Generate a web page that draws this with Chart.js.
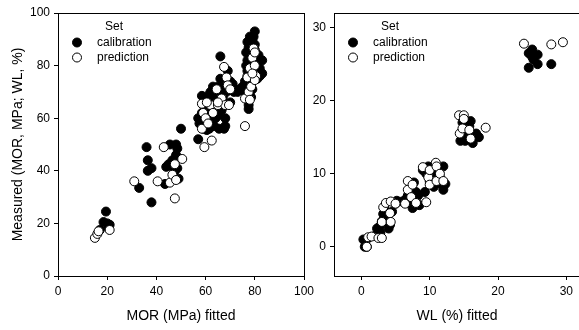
<!DOCTYPE html>
<html>
<head>
<meta charset="utf-8">
<script src="https://cdn.jsdelivr.net/npm/chart.js@4/dist/chart.umd.min.js"></script>
<style>
  html, body { margin: 0; padding: 0; background: #fff; overflow: hidden; }
  #wrap { position: relative; width: 579px; height: 330px; overflow: hidden; }
  canvas { position: absolute; left: 0; top: 0; }
</style>
</head>
<body>
<div id="wrap">
  <canvas id="left" width="579" height="330"></canvas>
  <canvas id="right" width="600" height="330"></canvas>
</div>
<script>
// MOR panel (x = fitted, y = measured)
const morCalibration = [
  [19.5,24.5],[18.5,20.5],[20,20],[21,19.5],[17,17.5],[20.5,18.5],
  [33,33.5],[36,49],[36.5,44],[36.5,40],[38,41],[38,28],[43.5,35],[44,41.5],[45,42.5],[45.5,50],
  [46,42],[47,41],[48,50],[48.5,48.5],[48,46],[48.5,41],[49,37],[50,56],[47.5,40],[46.5,44],
  [57,52],[57.5,58],[58,60],[58.5,68.5],[59,56],[59.5,59],[60,57],[60.5,55.5],[61,63.5],[61,67],
  [61.5,69],[62,70],[62,58],[63,72],[63.5,57],[64,60],[65,61],[65.5,56],[66,83.5],[66,75],[66,70],
  [67,72],[67.5,56],[68,57],[68.5,70],[69,78],[69.5,73],[70,66],[71,73],[72,71],[73,70],[74,71],
  [75,72],[76,74],[76.5,80],[77,89],[77.5,65],[77.5,63.5],[78,91],[78,87],[78.5,84],[79,90],
  [79.5,82],[80,93],[80,88],[80.5,78],[81,75],[82,76],[83,82],[83,77],[78,70],[77,76],[79,71],
  [80,86],[76.5,85],[78,81],[79,79],[58.5,62],[60,64],[63,65],[64,66],[67,68],[69.5,71],[70,74],
  [66.5,63],[59,58.5],[62.5,61],[57,60],[77,82],[79,75],[81,80],
  [77.5,87],[78.5,89],[79.5,91],[77,78],[78,74],[78.5,68],[82,79],[81.5,84],[76,70],[77,72],
  [64,68],[65,72],[60,61],[61.5,56],[68,60],[71.5,70]
];
const morPrediction = [
  [15,14.5],[16,16],[16.5,17],[21,17.5],
  [31,36],[40.5,36],[43,49],[45.5,35.5],[46.5,38.5],[47.5,29.5],[47.5,42.5],[48,36.5],[50.5,44.5],
  [58.5,56],[58.5,65.5],[59,62],[59.5,49],[60,60],[62,65],[62.5,51.5],[63,62],[64.5,71],[65,65],
  [66.5,67.5],[67.5,79.5],[68,65],[68.5,75.5],[69,72.5],[69.5,65],[70,71],[76,57],[76,67.5],
  [77,75.5],[77.5,70],[78,67],[78,79],[78.5,72],[79,83],[79.5,86.5],[80,85],[80,80],[80.5,76],
  [80,74.5],[79,77],[60.5,66],[65,66],[61,58]
];

// WL panel
const wlCalibration = [
  [0.3,1],[0.5,0],[0.8,0],[1,1.2],[2,1.5],[2.3,2.5],[2.7,2.8],[3,3.5],[3.2,4.5],[3.5,5.0],[4,2.5],
  [4.2,3],[4.5,4.8],[5.2,6.3],[5,5.9],[6.5,6.5],[7,7.5],[7.2,6.2],[7.5,5.3],[7.7,8.8],[8,7.5],
  [8.2,5.8],[8.5,5.7],[9,10.5],[9.3,7.5],[9.5,10],[10,10.5],[10,9],[10.3,8.5],[10.6,8.2],[10.8,11],
  [11,10],[11.5,9.5],[12,11],[12,7.8],[12.3,8.6],[14.5,14.5],[14.8,17],[15.2,14.5],[15.5,15.5],
  [15.8,16.5],[16,17.2],[16.2,15],[16.3,14.2],[16.8,15.5],[17.2,15],[24.5,26.5],[24.5,24.5],
  [25,27],[25,26],[25.2,25.6],[25.8,26.3],[25.8,25],[27.8,25],
  [6,6.2],[6.8,7],[7.4,8],[8.3,7],[3.8,4],[2.8,2],[9.8,11],[11.3,8.7],[15,16],[14.8,15]
];
const wlPrediction = [
  [0.8,0],[1,1.3],[1.5,1.4],[2.5,1.2],[3,1.2],[3,3.4],[3.2,5.4],[3.6,6],[4.2,4.6],[4.3,6.2],
  [4.3,3.4],[5,5.9],[6.4,5.9],[6.8,9],[6.8,7.8],[7.3,6.8],[7.5,8.5],[8,6],[9.5,6.1],[9,10.9],
  [9.8,9.5],[10,8.5],[10,10.5],[10.9,11.5],[11,11],[11,9],[11.5,10],[12,9],[14.3,18],[14.4,15.5],
  [14.8,16.2],[15,18],[15,17.5],[15.8,16],[16,14.8],[18.2,16.3],[23.8,27.8],[27.8,27.7],[29.5,28]
];

const setNames = ['calibration', 'prediction'];
const font = "'Liberation Sans', Arial, sans-serif";

function toPoints(arr) {
  return arr.map(p => ({ x: p[0], y: p[1] }));
}

// box round the plot area plus the "Set" legend
const framePlugin = {
  id: 'frame',
  afterDraw(chart) {
    const { ctx, chartArea } = chart;
    ctx.save();
    ctx.strokeStyle = '#000';
    ctx.lineWidth = 1;
    ctx.strokeRect(Math.round(chartArea.left) + 0.5, Math.round(chartArea.top) + 0.5,
      Math.round(chartArea.right - chartArea.left), Math.round(chartArea.bottom - chartArea.top));

    const lx = chartArea.left, ly = chartArea.top;
    ctx.fillStyle = '#000';
    ctx.font = '12px ' + font;
    ctx.textBaseline = 'middle';
    ctx.textAlign = 'center';
    ctx.fillText('Set', lx + 56, ly + 14);
    ctx.textAlign = 'left';
    setNames.forEach((name, i) => {
      const cy = ly + 29.5 + i * 15;
      ctx.beginPath();
      ctx.arc(lx + 19, cy, 4.5, 0, Math.PI * 2);
      ctx.fillStyle = i === 0 ? '#000' : '#fff';
      ctx.fill();
      ctx.stroke();
      ctx.fillStyle = '#000';
      ctx.fillText(name, lx + 39, cy);
    });
    ctx.restore();
  }
};

function makeChart(id, cal, pred, opts) {
  new Chart(document.getElementById(id), {
    type: 'scatter',
    data: {
      datasets: [
        { label: setNames[0], data: toPoints(cal), order: 1,
          backgroundColor: '#000', borderColor: '#000', borderWidth: 1, pointRadius: 4.5 },
        { label: setNames[1], data: toPoints(pred), order: 0,
          backgroundColor: '#fff', borderColor: '#000', borderWidth: 1, pointRadius: 4.5 }
      ]
    },
    options: {
      responsive: false,
      animation: false,
      layout: { padding: opts.padding },
      plugins: { legend: { display: false }, tooltip: { enabled: false } },
      scales: {
        x: {
          type: 'linear', min: opts.xMin, max: opts.xMax,
          ticks: { stepSize: opts.step, includeBounds: false, color: '#000', font: { size: 12, family: font }, padding: 4, maxRotation: 0 },
          grid: { drawOnChartArea: false, tickLength: 4, color: '#000' },
          border: { color: '#000' },
          title: { display: true, text: opts.xTitle, color: '#000', font: { size: 14, family: font }, padding: { top: 4, bottom: 5 } },
          afterFit(scale) { scale.height = 54; }
        },
        y: {
          type: 'linear', min: opts.yMin, max: opts.yMax,
          ticks: { stepSize: opts.step, includeBounds: false, color: '#000', font: { size: 12, family: font }, padding: 4 },
          grid: { drawOnChartArea: false, tickLength: 4, color: '#000' },
          border: { color: '#000' },
          title: { display: !!opts.yTitle, text: opts.yTitle || '', color: '#000', font: { size: 14, family: font }, padding: { top: 10, bottom: 4 } },
          afterFit(scale) { scale.width = opts.yWidth; }
        }
      }
    },
    plugins: [framePlugin]
  });
}

makeChart('left', morCalibration, morPrediction, {
  xMin: 0, xMax: 100, yMin: 0, yMax: 100, step: 20,
  xTitle: 'MOR (MPa) fitted', yTitle: 'Measured (MOR, MPa; WL, %)',
  yWidth: 58, padding: { left: 0, right: 275, top: 13, bottom: 0 }
});

makeChart('right', wlCalibration, wlPrediction, {
  xMin: -4, xMax: 32, yMin: -4, yMax: 32, step: 10,
  xTitle: 'WL (%) fitted', yTitle: null,
  yWidth: 334, padding: { left: 0, right: 20, top: 13, bottom: 0 }
});
</script>
</body>
</html>
